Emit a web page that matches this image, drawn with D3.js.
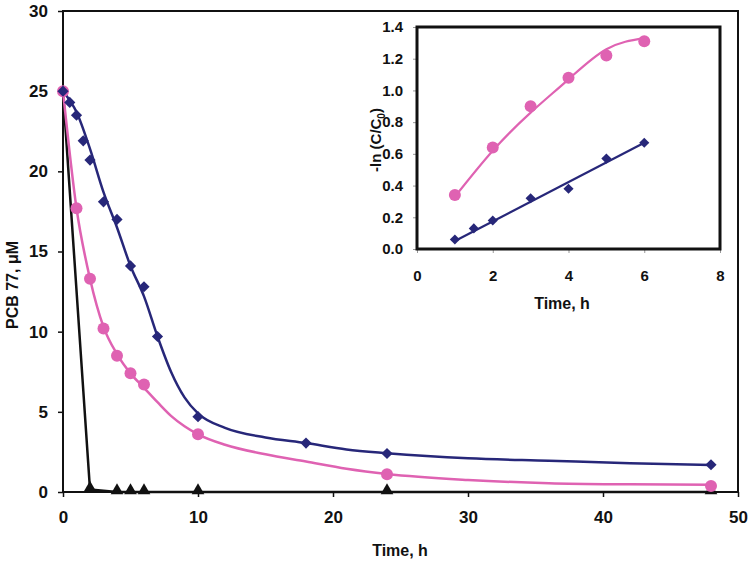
<!DOCTYPE html>
<html><head><meta charset="utf-8">
<script src="https://cdn.jsdelivr.net/npm/d3@7"></script>
<style>
body{margin:0;background:#fff;}
text{font-family:"Liberation Sans",Arial,sans-serif;font-weight:bold;fill:#111;}
</style></head>
<body><svg id="c" width="750" height="562"></svg>
<script>
// Main chart data (markers)
const timeBlue = [0,0.5,1,1.5,2,3,4,5,6,7,10,18,24,48];
const pcbBlue  = [25,24.3,23.5,21.9,20.7,18.1,17.0,14.1,12.8,9.7,4.7,3.05,2.4,1.7];
const timePink = [0,1,2,3,4,5,6,10,24,48];
const pcbPink  = [25,17.7,13.3,10.2,8.5,7.4,6.7,3.6,1.1,0.37];
const timeBlack = [0,2,4,5,6,10,24,48];
const pcbBlack  = [25,0.15,0,0,0,0,0,0];
// Main fitted curves
const fitBlueT = [0,1,2,3,4,5,6,7,8,9,10,12,15,18,21,24,30,36,42,48];
const fitBlueC = [25,23.7,21.4,18.7,16.5,14.1,12.2,9.7,7.5,5.9,4.9,4.0,3.4,3.05,2.65,2.42,2.1,1.95,1.8,1.68];
const fitPinkT = [0,1,2,3,4,5,6,7,8,9,10,12,15,18,21,24,30,36,42,48];
const fitPinkC = [25,17.7,13.3,10.3,8.6,7.4,6.5,5.6,4.75,4.1,3.6,2.95,2.35,1.9,1.45,1.12,0.75,0.55,0.48,0.45];
const mainXTicks = [0,10,20,30,40,50];
const mainYTicks = [0,5,10,15,20,25,30];
// Inset data
const insetTimePink = [1,2,3,4,5,6];
const insetLnPink   = [0.34,0.64,0.90,1.08,1.22,1.31];
const insetTimeBlue = [1,1.5,2,3,4,5,6];
const insetLnBlue   = [0.06,0.13,0.18,0.32,0.38,0.57,0.67];
const fitPinkX = [1,2,3,4,5,6];
const fitPinkY = [0.33,0.62,0.86,1.07,1.26,1.33];
const fitBlueX = [1,6];
const fitBlueY = [0.05,0.67];
const insetXTicks = [0,2,4,6,8];
const insetYTicks = [0,0.2,0.4,0.6,0.8,1.0,1.2,1.4];

const NAVY = "#272779", PINK = "#df62b2";
const FONT = "Liberation Sans, Arial, sans-serif";
const svg = d3.select("#c");

function series(xs,ys,sx,sy,color,w,curve){
  const l = d3.line().curve(curve).x(d=>sx(d[0])).y(d=>sy(d[1]));
  svg.append("path").attr("d",l(d3.zip(xs,ys))).attr("fill","none").attr("stroke",color).attr("stroke-width",w)
    .attr("stroke-linejoin","round");
}
function styleAxis(g,size,tickColor,tw){
  g.select(".domain").remove();
  g.selectAll("line").attr("stroke",tickColor).attr("stroke-width",tw);
  g.selectAll("text").style("font-size",size+"px").style("font-family",FONT).style("font-weight","bold").attr("fill","#111");
}

// ---------- main ----------
const x = d3.scaleLinear().domain([0,50]).range([63,738]);
const y = d3.scaleLinear().domain([0,30]).range([492,11]);

const gx = svg.append("g").attr("transform","translate(0,492)")
  .call(d3.axisBottom(x).tickValues(mainXTicks).tickSize(5).tickPadding(14).tickFormat(d3.format("d")));
const gy = svg.append("g").attr("transform","translate(63,0)")
  .call(d3.axisLeft(y).tickValues(mainYTicks).tickSize(5).tickPadding(10).tickFormat(d3.format("d")));
styleAxis(gx,17,"#111",1.5);
styleAxis(gy,17,"#111",1.5);

svg.append("rect").attr("x",x(0)).attr("y",y(30)).attr("width",x(50)-x(0)).attr("height",y(0)-y(30))
  .attr("fill","none").attr("stroke","#111").attr("stroke-width",2);

series(timeBlack,pcbBlack,x,y,"#111",2.5,d3.curveLinear);
series(fitPinkT,fitPinkC,x,y,PINK,2.5,d3.curveMonotoneX);
series(fitBlueT,fitBlueC,x,y,NAVY,2.5,d3.curveMonotoneX);

const tri = d3.symbol().type(d3.symbolTriangle).size(70);
svg.append("g").selectAll("path").data(d3.zip(timeBlack,pcbBlack).slice(1)).join("path")
  .attr("d",tri).attr("transform",d=>`translate(${x(d[0])},${y(d[1])-1.5})`).attr("fill","#111");
svg.append("g").selectAll("circle").data(d3.zip(timePink,pcbPink)).join("circle")
  .attr("cx",d=>x(d[0])).attr("cy",d=>y(d[1])).attr("r",6).attr("fill",PINK);
const dia = d3.symbol().type(d3.symbolDiamond2).size(80);
svg.append("g").selectAll("path").data(d3.zip(timeBlue,pcbBlue)).join("path")
  .attr("d",dia).attr("transform",d=>`translate(${x(d[0])},${y(d[1])})`).attr("fill",NAVY);

svg.append("text").attr("x",400).attr("y",556).attr("text-anchor","middle").style("font-size","16px").text("Time, h");
svg.append("text").attr("transform","translate(18,285) rotate(-90)").attr("text-anchor","middle").style("font-size","16px").text("PCB 77, μM");

// ---------- inset ----------
const ix = d3.scaleLinear().domain([0,8]).range([417,720]);
const iy = d3.scaleLinear().domain([0,1.4]).range([249,27]);
const igx = svg.append("g").attr("transform","translate(0,249)")
  .call(d3.axisBottom(ix).tickValues(insetXTicks).tickSize(4).tickPadding(17).tickFormat(d3.format("d")));
const igy = svg.append("g").attr("transform","translate(417,0)")
  .call(d3.axisLeft(iy).tickValues(insetYTicks).tickSize(4).tickPadding(10).tickFormat(d3.format(".1f")));
styleAxis(igx,15,"#999",1);
styleAxis(igy,15,"#999",1);
svg.append("rect").attr("x",ix(0)).attr("y",iy(1.4)).attr("width",ix(8)-ix(0)).attr("height",iy(0)-iy(1.4))
  .attr("fill","none").attr("stroke","#111").attr("stroke-width",3);

series(fitPinkX,fitPinkY,ix,iy,PINK,2.2,d3.curveNatural);
series(fitBlueX,fitBlueY,ix,iy,NAVY,2.2,d3.curveLinear);
svg.append("g").selectAll("circle").data(d3.zip(insetTimePink,insetLnPink)).join("circle")
  .attr("cx",d=>ix(d[0])).attr("cy",d=>iy(d[1])).attr("r",6).attr("fill",PINK);
const dia2 = d3.symbol().type(d3.symbolDiamond2).size(65);
svg.append("g").selectAll("path").data(d3.zip(insetTimeBlue,insetLnBlue)).join("path")
  .attr("d",dia2).attr("transform",d=>`translate(${ix(d[0])},${iy(d[1])})`).attr("fill",NAVY);

svg.append("text").attr("x",562).attr("y",309).attr("text-anchor","middle").style("font-size","16px").text("Time, h");
const yl = svg.append("text").attr("transform","translate(381,140) rotate(-90)").attr("text-anchor","middle").style("font-size","15px");
yl.append("tspan").text("-ln (C/C");
yl.append("tspan").attr("dy","4").style("font-size","10px").text("0");
yl.append("tspan").attr("dy","-4").text(")");
</script></body></html>
